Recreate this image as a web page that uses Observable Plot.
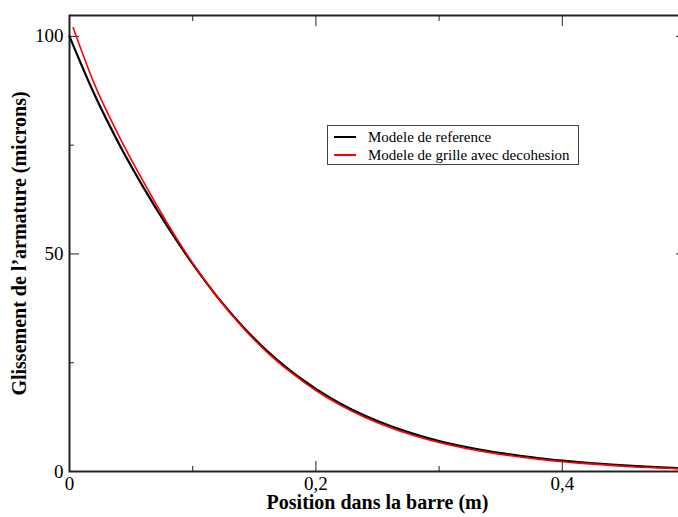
<!DOCTYPE html>
<html><head><meta charset="utf-8">
<script src="https://cdn.jsdelivr.net/npm/d3@7"></script>
<script src="https://cdn.jsdelivr.net/npm/@observablehq/plot@0.6"></script>
<style>
body{margin:0;background:#fff;}
#wrap{position:relative;width:678px;height:517px;overflow:hidden;}
#legend{position:absolute;left:327px;top:125px;width:252px;height:40px;border:1px solid #444;background:#fff;font-family:"Liberation Serif","Times New Roman",serif;font-size:15px;color:#000;box-sizing:border-box;}
.row{position:absolute;left:6px;height:18px;display:flex;align-items:center;}
.sw{width:22px;height:2px;margin-right:12px;}
</style></head>
<body><div id="wrap"><div id="legend"></div></div>
<script>
const seriesNames = ["Modele de reference", "Modele de grille avec decohesion"];
const seriesColors = ["#000000", "#ff0000"];
const xBlack = [0, 0.02, 0.04, 0.06, 0.08, 0.10, 0.12, 0.14, 0.16, 0.18, 0.20, 0.22, 0.24, 0.26, 0.28, 0.30, 0.32, 0.34, 0.36, 0.38, 0.40, 0.42, 0.44, 0.46, 0.48, 0.50];
const yBlack = [100, 86.8, 75.4, 65.3, 56.1, 47.7, 40.1, 33.5, 27.8, 23.0, 19.0, 15.6, 12.8, 10.5, 8.6, 7.0, 5.75, 4.7, 3.85, 3.1, 2.5, 2.0, 1.6, 1.25, 0.95, 0.72];
const xRed = [0.003, 0.02, 0.04, 0.06, 0.08, 0.10, 0.12, 0.14, 0.16, 0.18, 0.20, 0.22, 0.24, 0.26, 0.28, 0.30, 0.32, 0.34, 0.36, 0.38, 0.40, 0.42, 0.44, 0.46, 0.48, 0.50];
const yRed = [102, 89.2, 77.2, 66.6, 56.8, 47.9, 40.1, 33.3, 27.5, 22.7, 18.6, 15.2, 12.4, 10.1, 8.2, 6.65, 5.4, 4.4, 3.55, 2.85, 2.25, 1.8, 1.4, 1.05, 0.8, 0.6];
const xMajor = [0, 0.2, 0.4];
const xMinor = [0.1, 0.3];
const yMajor = [0, 50, 100];
const yMinor = [25, 75];

const black = xBlack.map((x, i) => ({x, y: yBlack[i]}));
const red = xRed.map((x, i) => ({x, y: yRed[i]}));
const fmt = d => d === 0 ? "0" : d.toFixed(1).replace(".", ",");
const font = "Liberation Serif, Times New Roman, serif";
const tk = {fill: "none", label: null, stroke: "#222"};

const chart = Plot.plot({
  width: 678, height: 517,
  marginLeft: 69, marginTop: 15, marginBottom: 46, marginRight: -7,
  style: {fontFamily: font, fontSize: "19px", color: "#000", background: "#fff"},
  x: {domain: [0, 0.5]},
  y: {domain: [0, 104.8]},
  marks: [
    Plot.axisX(xMajor, {anchor: "bottom", tickSize: 0, tickPadding: 5, tickFormat: fmt, fontSize: 19,
      label: "Position dans la barre (m)", labelAnchor: "center", labelArrow: "none", labelOffset: 37}),
    Plot.axisX(xMajor, {anchor: "bottom", tickSize: -10, ...tk}),
    Plot.axisX(xMinor, {anchor: "bottom", tickSize: -5, ...tk}),
    Plot.axisX(xMajor, {anchor: "top", tickSize: -10, ...tk}),
    Plot.axisX(xMinor, {anchor: "top", tickSize: -5, ...tk}),
    Plot.axisY(yMajor, {anchor: "left", tickSize: 0, tickPadding: 6, fontSize: 19,
      label: "Glissement de l\u2019armature (microns)", labelAnchor: "center", labelArrow: "none", labelOffset: 58}),
    Plot.axisY(yMajor, {anchor: "left", tickSize: -10, ...tk}),
    Plot.axisY(yMinor, {anchor: "left", tickSize: -5, ...tk}),
    Plot.axisY(yMajor, {anchor: "right", tickSize: -10, ...tk}),
    Plot.axisY(yMinor, {anchor: "right", tickSize: -5, ...tk}),
    Plot.frame({stroke: "#222", strokeWidth: 2}),
    Plot.line(black, {x: "x", y: "y", stroke: seriesColors[0], strokeWidth: 2.2, curve: "monotone-x"}),
    Plot.line(red, {x: "x", y: "y", stroke: seriesColors[1], strokeWidth: 1.6, curve: "monotone-x"})
  ]
});
chart.querySelectorAll("[aria-label='x-axis label'] text, [aria-label='y-axis label'] text").forEach(t => {
  t.setAttribute("font-weight", "bold"); t.setAttribute("font-size", "20px");
});
const wrap = document.getElementById("wrap");
wrap.insertBefore(chart, wrap.firstChild);
const leg = document.getElementById("legend");
seriesNames.forEach((n, i) => {
  const r = document.createElement("div");
  r.className = "row"; r.style.top = (2 + i * 18) + "px";
  r.innerHTML = `<div class="sw" style="background:${seriesColors[i]}"></div><span>${n}</span>`;
  leg.appendChild(r);
});
</script></body></html>
